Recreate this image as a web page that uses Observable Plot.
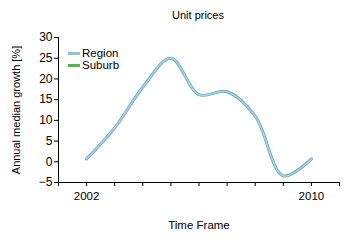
<!DOCTYPE html>
<html>
<head>
<meta charset="utf-8">
<script src="https://cdn.jsdelivr.net/npm/d3@7"></script>
<script src="https://cdn.jsdelivr.net/npm/@observablehq/plot@0.6"></script>
<style>
  html, body { margin: 0; padding: 0; background: #fff; }
  #wrap { position: relative; width: 350px; height: 240px; }
  #wrap svg { font-family: "Liberation Sans", Arial, sans-serif; }
  #legend { position: absolute; left: 68px; top: 47px; font: 11.5px "Liberation Sans", Arial, sans-serif; color: #000; line-height: 12px; z-index: 2; }
  #legend .item { display: flex; align-items: center; height: 12px; }
  #legend .sw { width: 12px; height: 3px; margin-right: 2px; }
</style>
</head>
<body>
<div id="wrap"><div id="legend"></div></div>
<script>
const years = [2002, 2003, 2004, 2005, 2006, 2007, 2008, 2009, 2010];
const regionGrowth = [0.7, 8.2, 18.0, 25.0, 16.2, 16.9, 11.0, -3.4, 0.7];
const yTicks = [-5, 0, 5, 10, 15, 20, 25, 30];
const xTicks = [2001, 2002, 2003, 2004, 2005, 2006, 2007, 2008, 2009, 2010, 2011];
const xLabelled = [2002, 2010];
const legendNames = ["Region", "Suburb"];
const legendColors = ["#8cc3da", "#4cb84c"];

const data = years.map((y, i) => ({year: y, value: regionGrowth[i]}));

const chart = Plot.plot({
  width: 350,
  height: 240,
  marginLeft: 58,
  marginRight: 11,
  marginTop: 37,
  marginBottom: 58,
  style: {fontSize: "11.5px", fontFamily: "Liberation Sans, Arial, sans-serif", color: "#000", background: "#fff"},
  x: {domain: [2001, 2011]},
  y: {domain: [-5, 30]},
  marks: [
    Plot.ruleX([2001], {stroke: "#000"}),
    Plot.ruleY([-5], {stroke: "#000"}),
    Plot.axisX({ticks: xTicks, tickFormat: d => xLabelled.includes(d) ? String(d) : "", tickSize: 4, label: "Time Frame", labelAnchor: "center", labelOffset: 46, labelArrow: false, fontSize: 11.5}),
    Plot.axisY({ticks: yTicks, tickSize: 4, tickPadding: 2, fontSize: 12, label: null}),
    Plot.axisY({ticks: [], tickSize: 0, label: "Annual median growth [%]", labelAnchor: "center", labelOffset: 46, labelArrow: false, fontSize: 11}),
    Plot.line(data, {x: "year", y: "value", curve: "catmull-rom", stroke: "#6ea3bb", strokeWidth: 3}),
    Plot.line(data, {x: "year", y: "value", curve: "catmull-rom", stroke: "#9fd1e4", strokeWidth: 1.7}),
    Plot.text(["Unit prices"], {frameAnchor: "top", dy: -26, dx: -1, fontSize: 11, fill: "#000"})
  ]
});
document.getElementById("wrap").appendChild(chart);
chart.style.position = "absolute";
chart.style.left = "0";
chart.style.top = "0";

const leg = d3.select("#legend");
legendNames.forEach((n, i) => {
  const it = leg.append("div").attr("class", "item");
  it.append("div").attr("class", "sw").style("background", legendColors[i]);
  it.append("span").text(n);
});
</script>
</body>
</html>
